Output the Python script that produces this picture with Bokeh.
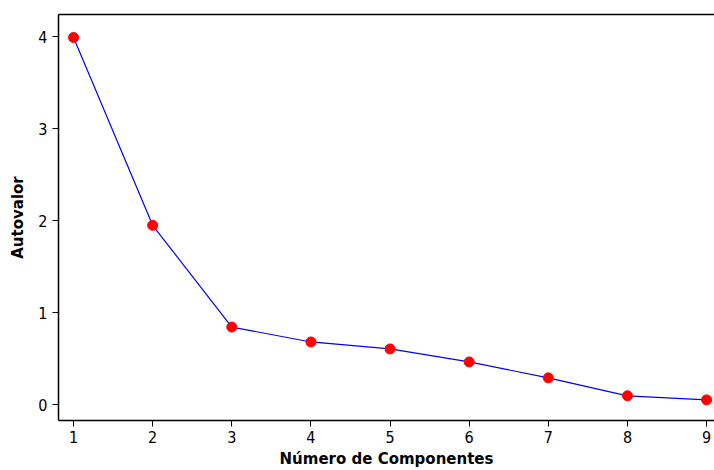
from bokeh.plotting import figure
from bokeh.models import Range1d, FixedTicker, LinearAxis
from bokeh.embed import file_html
from bokeh.resources import INLINE

componentes = [1, 2, 3, 4, 5, 6, 7, 8, 9]
autovalores = [3.99, 1.95, 0.845, 0.683, 0.607, 0.466, 0.293, 0.098, 0.054]
y_ticks = [0, 1, 2, 3, 4]
x_ticks = [1, 2, 3, 4, 5, 6, 7, 8, 9]

TICK_FONT = "'DejaVu Sans Condensed', 'Liberation Sans Narrow', sans-serif"
LABEL_FONT = "'DejaVu Sans', sans-serif"

p = figure(width=714, height=470, output_backend="svg", toolbar_location=None,
           x_range=Range1d(0.81, 9.10), y_range=Range1d(-0.17, 4.24),
           min_border_left=58, min_border_right=0, min_border_top=14, min_border_bottom=49)
p.outline_line_color = None
p.grid.visible = False
p.background_fill_color = "white"
p.border_fill_color = "white"

p.line(componentes, autovalores, line_color="blue", line_width=1.2)
p.scatter(componentes, autovalores, size=10, fill_color="red", line_color="red")

for ax in (p.xaxis[0], p.yaxis[0]):
    ax.axis_line_color = "black"
    ax.axis_line_width = 1.5
    ax.major_tick_line_color = "black"
    ax.major_tick_out = 6
    ax.major_tick_in = 0
    ax.minor_tick_line_color = None
    ax.major_label_text_font = TICK_FONT
    ax.major_label_text_font_size = "16px"
    ax.major_label_text_color = "black"
    ax.axis_label_text_font = LABEL_FONT
    ax.axis_label_text_font_size = "15px"
    ax.axis_label_text_font_style = "bold"
    ax.axis_label_text_color = "black"

p.xaxis[0].ticker = FixedTicker(ticks=x_ticks)
p.yaxis[0].ticker = FixedTicker(ticks=y_ticks)
p.xaxis[0].axis_label = "Número de Componentes"
p.yaxis[0].axis_label = "Autovalor"
p.xaxis[0].major_label_standoff = 4
p.xaxis[0].axis_label_standoff = 4
p.yaxis[0].major_label_standoff = 5
p.yaxis[0].axis_label_standoff = 8

top = LinearAxis(ticker=FixedTicker(ticks=[]), major_label_text_font_size="0px",
                 axis_line_color="black", axis_line_width=1.5,
                 major_tick_line_color=None, minor_tick_line_color=None)
p.add_layout(top, "above")

open("out.html", "w").write(file_html(p, INLINE))
